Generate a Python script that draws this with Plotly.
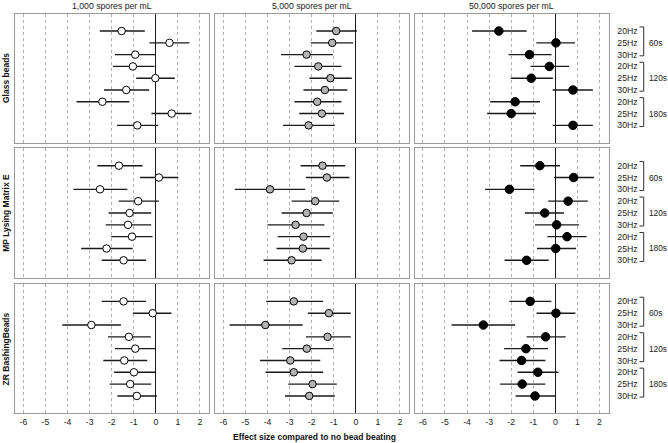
import plotly.graph_objects as go

# ---------------- data ----------------
col_titles = ["1,000 spores per mL", "5,000 spores per mL", "50,000 spores per mL"]
row_titles = ["Glass beads", "MP Lysing Matrix E", "ZR BashingBeads"]
freq_labels = ["20Hz", "25Hz", "30Hz", "20Hz", "25Hz", "30Hz", "20Hz", "25Hz", "30Hz"]
time_labels = ["60s", "120s", "180s"]
x_ticks = [-6, -5, -4, -3, -2, -1, 0, 1, 2]

# Glass beads
glass_1k_est = [-1.55, 0.62, -0.93, -1.04, -0.02, -1.34, -2.42, 0.72, -0.84]
glass_1k_lo = [-2.54, -0.29, -1.85, -1.94, -0.89, -2.35, -3.59, -0.20, -1.76]
glass_1k_hi = [-0.50, 1.52, 0.00, -0.06, 0.86, -0.30, -1.20, 1.62, 0.11]
glass_5k_est = [-0.89, -1.07, -2.23, -1.70, -1.15, -1.40, -1.75, -1.54, -2.14]
glass_5k_lo = [-1.79, -2.04, -3.39, -2.78, -2.10, -2.37, -2.78, -2.56, -3.30]
glass_5k_hi = [0.05, -0.12, -1.04, -0.65, -0.18, -0.38, -0.65, -0.53, -0.95]
glass_50k_est = [-2.56, 0.03, -1.17, -0.27, -1.09, 0.80, -1.82, -2.00, 0.80]
glass_50k_lo = [-3.77, -0.86, -2.12, -1.12, -2.02, -0.12, -2.95, -3.09, -0.12]
glass_50k_hi = [-1.30, 0.89, -0.17, 0.62, -0.11, 1.70, -0.70, -0.88, 1.70]

# MP Lysing Matrix E
mp_1k_est = [-1.67, 0.14, -2.53, -0.80, -1.19, -1.26, -1.08, -2.23, -1.46]
mp_1k_lo = [-2.65, -0.72, -3.73, -1.68, -2.14, -2.27, -2.02, -3.38, -2.45]
mp_1k_hi = [-0.60, 1.02, -1.29, 0.14, -0.21, -0.21, -0.15, -1.05, -0.44]
mp_5k_est = [-1.51, -1.31, -3.89, -1.84, -2.23, -2.73, -2.37, -2.40, -2.91]
mp_5k_lo = [-2.50, -2.26, -5.48, -2.91, -3.36, -4.00, -3.54, -3.59, -4.18]
mp_5k_hi = [-0.48, -0.29, -2.29, -0.75, -1.04, -1.42, -1.16, -1.18, -1.55]
mp_50k_est = [-0.70, 0.83, -2.08, 0.58, -0.48, 0.06, 0.53, 0.02, -1.30]
mp_50k_lo = [-1.59, -0.06, -3.18, -0.32, -1.38, -0.92, -0.36, -0.83, -2.30]
mp_50k_hi = [0.21, 1.76, -0.94, 1.47, 0.39, 1.08, 1.42, 0.94, -0.30]

# ZR BashingBeads
zr_1k_est = [-1.46, -0.14, -2.92, -1.22, -0.93, -1.43, -0.99, -1.16, -0.86]
zr_1k_lo = [-2.45, -1.04, -4.24, -2.17, -1.85, -2.38, -1.89, -2.09, -1.74]
zr_1k_hi = [-0.44, 0.71, -1.58, -0.23, 0.00, -0.39, 0.00, -0.21, 0.05]
zr_5k_est = [-2.81, -1.22, -4.10, -1.28, -2.22, -2.97, -2.81, -1.96, -2.11]
zr_5k_lo = [-4.06, -2.17, -5.72, -2.26, -3.33, -4.34, -4.09, -3.06, -3.21]
zr_5k_hi = [-1.48, -0.23, -2.41, -0.23, -1.01, -1.61, -1.48, -0.86, -0.95]
zr_50k_est = [-1.14, 0.03, -3.26, -0.44, -1.33, -1.53, -0.79, -1.50, -0.92]
zr_50k_lo = [-2.09, -0.85, -4.70, -1.30, -2.32, -2.53, -1.71, -2.50, -1.80]
zr_50k_hi = [-0.18, 0.91, -1.82, 0.47, -0.33, -0.45, 0.14, -0.45, 0.00]

panels = [
    [(glass_1k_est, glass_1k_lo, glass_1k_hi), (glass_5k_est, glass_5k_lo, glass_5k_hi), (glass_50k_est, glass_50k_lo, glass_50k_hi)],
    [(mp_1k_est, mp_1k_lo, mp_1k_hi), (mp_5k_est, mp_5k_lo, mp_5k_hi), (mp_50k_est, mp_50k_lo, mp_50k_hi)],
    [(zr_1k_est, zr_1k_lo, zr_1k_hi), (zr_5k_est, zr_5k_lo, zr_5k_hi), (zr_50k_est, zr_50k_lo, zr_50k_hi)],
]

# ---------------- style ----------------
W, H = 668, 443
FONT = "Liberation Sans, Arial, Helvetica, sans-serif"
fills = ["white", "#b3b3b3", "black"]
msizes = [7.5, 7.5, 8.5]
col_px = [(15, 209), (215, 409), (414.5, 608.5)]
row_px = [(13.7, 142.7), (148.3, 277.7), (284, 413.3)]
XR = [-6.38, 2.41]
YR = [9.47, -1.47]

fig = go.Figure()
ypos = list(range(len(freq_labels)))

for r in range(3):
    for c in range(3):
        k = r * 3 + c + 1
        est, lo, hi = panels[r][c]
        xa = "x" if k == 1 else f"x{k}"
        ya = "y" if k == 1 else f"y{k}"
        fig.add_trace(go.Scatter(
            x=est, y=ypos, mode="markers", xaxis=xa, yaxis=ya,
            marker=dict(size=msizes[c], color=fills[c], line=dict(color="black", width=1)),
            error_x=dict(type="data", symmetric=False,
                         array=[h - e for h, e in zip(hi, est)],
                         arrayminus=[e - l for e, l in zip(est, lo)],
                         width=0, thickness=1.4, color="#1a1a1a"),
            showlegend=False, hoverinfo="skip"))
        x0, x1 = col_px[c]
        y0, y1 = row_px[r]
        xkey = "xaxis" if k == 1 else f"xaxis{k}"
        ykey = "yaxis" if k == 1 else f"yaxis{k}"
        fig.layout[xkey] = dict(
            domain=[x0 / W, x1 / W], anchor=ya, range=XR,
            tickvals=x_ticks, ticktext=[str(t) for t in x_ticks],
            showticklabels=(r == 2), ticks="", ticklabelstandoff=0,
            tickfont=dict(size=8.7, color="#222", family=FONT),
            showgrid=True, gridcolor="#b0b0b0", griddash="3px,3px", gridwidth=1,
            zeroline=True, zerolinecolor="#1a1a1a", zerolinewidth=1.3,
            showline=True, mirror=True, linecolor="#9a9a9a", linewidth=1.2,
        )
        yd = dict(
            domain=[1 - y1 / H, 1 - y0 / H], anchor=xa, range=YR,
            showgrid=False, zeroline=False,
            showline=True, mirror=True, linecolor="#9a9a9a", linewidth=1.2,
            ticks="",
        )
        if c == 2:
            yd.update(side="right", tickvals=ypos, ticktext=freq_labels,
                      showticklabels=True, ticklabelstandoff=6,
                      tickfont=dict(size=8.7, color="#222", family=FONT))
        else:
            yd.update(showticklabels=False)
        fig.layout[ykey] = yd

annotations = []
shapes = []
for c, t in enumerate(col_titles):
    annotations.append(dict(text=t, x=(col_px[c][0] + col_px[c][1]) / 2 / W, y=1 - 5.5 / H,
                            xref="paper", yref="paper", showarrow=False,
                            xanchor="center", yanchor="middle",
                            font=dict(size=8.7, color="#222", family=FONT)))
for r, t in enumerate(row_titles):
    annotations.append(dict(text="<b>" + t + "</b>", x=5.8 / W, y=1 - (row_px[r][0] + row_px[r][1]) / 2 / H,
                            xref="paper", yref="paper", showarrow=False, textangle=-90,
                            xanchor="center", yanchor="middle",
                            font=dict(size=8.5, color="#111", family=FONT)))
annotations.append(dict(text="<b>Effect size compared to no bead beating</b>", x=314 / W, y=1 - 437 / H,
                        xref="paper", yref="paper", showarrow=False,
                        xanchor="center", yanchor="middle",
                        font=dict(size=8.5, color="#111", family=FONT)))

# time brackets on the right
for r in range(3):
    k = r * 3 + 3
    ya = f"y{k}"
    for g, lab in enumerate(time_labels):
        ytop, ybot = ypos[g * 3] - 0.35, ypos[g * 3 + 2] + 0.1
        xv = 643.7 / W
        xl = 639.5 / W
        shapes.append(dict(type="line", xref="paper", yref=ya, x0=xv, x1=xv, y0=ytop, y1=ybot,
                           line=dict(color="#333", width=1)))
        shapes.append(dict(type="line", xref="paper", yref=ya, x0=xl, x1=xv, y0=ytop, y1=ytop,
                           line=dict(color="#333", width=1)))
        shapes.append(dict(type="line", xref="paper", yref=ya, x0=xl, x1=xv, y0=ybot, y1=ybot,
                           line=dict(color="#333", width=1)))
        annotations.append(dict(text=lab, xref="paper", yref=ya, x=647.5 / W, xanchor="left",
                                y=ypos[g * 3 + 1], showarrow=False, borderpad=0,
                                font=dict(size=8.3, color="#222", family=FONT)))

fig.update_layout(
    width=W, height=H, margin=dict(l=0, r=0, t=0, b=0),
    paper_bgcolor="white", plot_bgcolor="white",
    annotations=annotations, shapes=shapes,
)

fig.write_html("out.html")
